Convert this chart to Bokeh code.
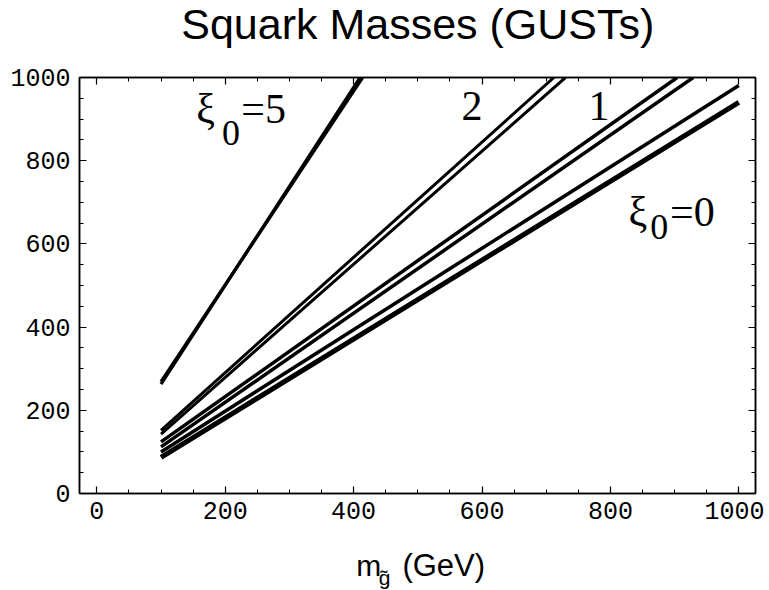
from bokeh.plotting import figure
from bokeh.models import Range1d, LinearAxis, SingleIntervalTicker, Label, CustomJSTickFormatter
from bokeh.layouts import column
from bokeh.embed import file_html
from bokeh.resources import INLINE

# ---- data ----
curve_names = ["xi5_a", "xi5_b", "xi2_a", "xi2_b", "xi1_a", "xi1_b", "xi0_a", "xi0_b"]
start_gluino = [100, 100, 100, 100, 100, 100, 100, 100]
start_squark = [263, 269, 152, 143, 124, 112, 100, 87]
end_gluino = [410, 414, 712, 730, 904, 929, 1000, 1000]
end_squark = [1000, 1000, 1000, 1000, 1000, 1000, 981, 940]

x_ticks = [0, 200, 400, 600, 800, 1000]
y_ticks = [0, 200, 400, 600, 800, 1000]

title_text = "Squark Masses (GUSTs)"
xlabel_parts = ["m", "g\u0303", "(GeV)"]

# in-plot labels
lab_main_text = ["\u03be", "=5", "2", "1", "\u03be", "=0"]
lab_main_x = [155, 225, 568, 766, 828, 893]
lab_main_y = [925, 925, 931, 931, 676, 676]
lab_sub_text = ["0", "0"]
lab_sub_x = [195, 862]
lab_sub_y = [867, 640]

# ---- styles ----
widths = [3.2, 3.2, 3.0, 3.0, 3.5, 3.5, 3.5, 5.0]
W = 764

xr = Range1d(-27, 1026)


def strip(height):
    s = figure(width=W, height=height, x_range=xr, y_range=Range1d(0, height),
               output_backend="svg", toolbar_location=None,
               x_axis_location=None, y_axis_location=None,
               min_border_left=79, min_border_right=9, min_border_top=0, min_border_bottom=0)
    s.grid.visible = False
    s.outline_line_color = None
    s.background_fill_color = "white"
    s.border_fill_color = "white"
    return s


# title strip
t = strip(60)
t.add_layout(Label(x=500, y=37, text=title_text, text_font="Liberation Sans",
                   text_font_size="43px", text_align="center", text_baseline="alphabetic",
                   text_color="black"))

p = figure(width=W, height=480, x_range=xr, y_range=Range1d(0, 1000),
           output_backend="svg", toolbar_location=None,
           x_axis_location=None, y_axis_location=None,
           min_border_left=79, min_border_right=9, min_border_top=17, min_border_bottom=47)
p.grid.visible = False
p.outline_line_color = "black"
p.outline_line_width = 1.5
p.background_fill_color = "white"
p.border_fill_color = "white"

for i in range(len(curve_names)):
    p.line([start_gluino[i], end_gluino[i]], [start_squark[i], end_squark[i]],
           line_color="black", line_width=widths[i])


def make_axis(labels=True, standoff=8):
    ax = LinearAxis(ticker=SingleIntervalTicker(interval=200, num_minor_ticks=4))
    ax.axis_line_color = "black"
    ax.axis_line_width = 1.5
    ax.major_tick_in = 7
    ax.major_tick_out = 0
    ax.minor_tick_in = 4
    ax.minor_tick_out = 0
    ax.major_tick_line_color = "black"
    ax.minor_tick_line_color = "black"
    ax.major_tick_line_width = 1.2
    ax.minor_tick_line_width = 1.0
    if labels:
        ax.major_label_text_font = "Liberation Mono"
        ax.major_label_text_font_size = "25px"
        ax.major_label_text_color = "black"
        ax.major_label_standoff = standoff
    else:
        ax.formatter = CustomJSTickFormatter(code="return ''")
        ax.major_label_text_font_size = "1px"
        ax.major_label_standoff = 0
    return ax


p.add_layout(make_axis(True, 9), "left")
p.add_layout(make_axis(True, 8), "below")
p.add_layout(make_axis(False), "above")
p.add_layout(make_axis(False), "right")

for tx, x, y in zip(lab_main_text, lab_main_x, lab_main_y):
    p.add_layout(Label(x=x, y=y, text=tx, text_font="Liberation Serif", text_font_size="42px",
                       text_baseline="alphabetic", text_color="black"))
for tx, x, y in zip(lab_sub_text, lab_sub_x, lab_sub_y):
    p.add_layout(Label(x=x, y=y, text=tx, text_font="Liberation Serif", text_font_size="36px",
                       text_baseline="alphabetic", text_color="black"))

# strip below the chart holding the x-axis title
q = strip(50)
xl_x = [404, 439, 476]
xl_y = [25, 13, 25]
xl_size = ["30px", "21px", "31px"]
for tx, x, y, s in zip(xlabel_parts, xl_x, xl_y, xl_size):
    q.add_layout(Label(x=x, y=y, text=tx, text_font="Liberation Sans", text_font_size=s,
                       text_baseline="alphabetic", text_color="black"))

layout = column(t, p, q, spacing=0)
open("out.html", "w").write(file_html(layout, INLINE))
